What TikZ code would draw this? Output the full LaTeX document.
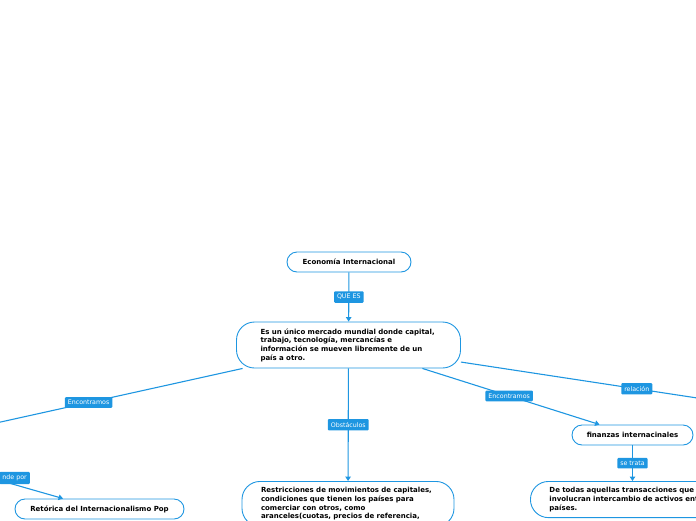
\documentclass[tikz,border=0pt]{standalone}
\usepackage{fontspec}
\setmainfont{DejaVu Sans}
\usetikzlibrary{arrows.meta}
\definecolor{mapblue}{RGB}{30,150,225}
\tikzset{
  topic/.style={draw=mapblue, line width=0.9pt, fill=white, rounded corners=10pt,
    minimum height=20pt, inner sep=2pt, font=\bfseries\fontsize{7}{8.7}\selectfont},
  bigtopic/.style={topic, rounded corners=18pt, align=left, inner xsep=19pt, inner ysep=6pt},
  link/.style={draw=mapblue, line width=1.1pt},
  arrowlink/.style={link, -{Triangle[width=5.5pt,length=4.5pt]}},
  tag/.style={fill=mapblue, text=white, rounded corners=1pt, inner xsep=3pt,
    inner ysep=3pt, font=\fontsize{6.3}{7}\selectfont}
}
\begin{document}
\begin{tikzpicture}[x=1pt,y=-1pt]
  \useasboundingbox (0,0) rectangle (696,520);
  \clip (0,0) rectangle (696,520);

  % topics
  \node[topic, minimum width=124pt] (eco) at (349,262) {Economía Internacional};
  \node[bigtopic, text width=176pt, inner xsep=24pt, minimum height=46pt] (mercado) at (348.5,345)
    {Es un único mercado mundial donde capital,\\ trabajo, tecnología,  mercancías e\\
     información se mueven libremente de un\\ país a otro.};
  \node[bigtopic, text width=174pt, anchor=north] (restr) at (348,481)
    {Restricciones de movimientos de capitales,\\ condiciones que tienen los países para\\
     comerciar con otros, como\\ aranceles(cuotas, precios de referencia,};
  \node[topic, minimum width=121pt] (fin) at (632.5,435) {finanzas internacinales};
  \node[bigtopic, text width=190pt, anchor=north west] (trans) at (530,481)
    {De todas aquellas transacciones que\\ involucran intercambio de activos entre\\ países.};
  \node[topic, minimum width=169pt] (retorica) at (99.5,509) {Retórica del Internacionalismo Pop};

  % ends outside the frame
  \coordinate (leftend) at (-40,431);
  \coordinate (rightend) at (740,404.5);
  \coordinate (popsrc) at (-40,469);

  % links
  \draw[arrowlink] (eco) -- node[tag] {QUE ES} (mercado);
  \draw[link] (mercado) -- node[tag, pos=0.545] {Encontramos} (leftend);
  \draw[arrowlink] (mercado) -- node[tag] {Obstáculos} (restr);
  \draw[arrowlink] (mercado) -- node[tag, pos=0.49] {Encontramos} (fin);
  \draw[link] (mercado) -- node[tag, pos=0.63] {relación} (rightend);
  \draw[arrowlink] (fin.south) -- node[tag] {se trata} (fin.south |- trans.north);
  \draw[arrowlink] (popsrc) -- (retorica);
  \node[tag, anchor=east] (comprende) at (30,478) {nde por};
\end{tikzpicture}
\end{document}
